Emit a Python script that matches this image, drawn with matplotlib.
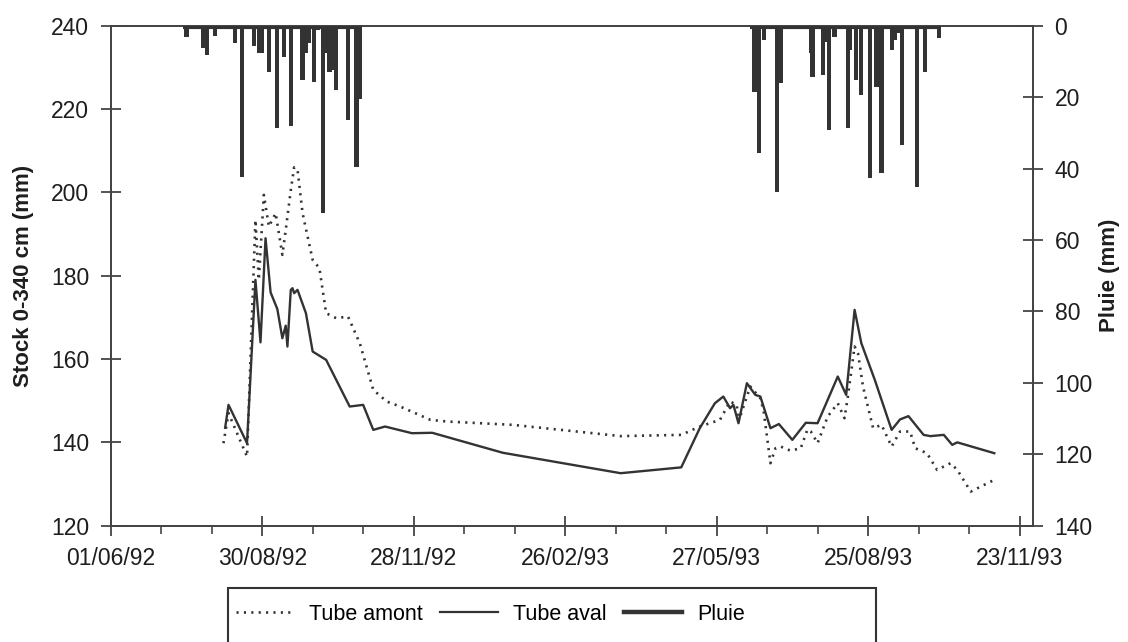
import matplotlib
matplotlib.use("Agg")
import matplotlib.pyplot as plt
from matplotlib.lines import Line2D
from matplotlib.patches import Rectangle
import pandas as pd

plt.rcParams['font.family'] = ['Liberation Sans', 'DejaVu Sans']

# ---------------- data ----------------
amont_dates = ['07/08/92', '10/08/92', '21/08/92', '26/08/92', '28/08/92', '31/08/92', '03/09/92',
               '07/09/92', '11/09/92', '13/09/92', '16/09/92', '18/09/92', '20/09/92', '23/09/92',
               '29/09/92', '03/10/92', '07/10/92', '13/10/92', '20/10/92', '27/10/92', '04/11/92',
               '12/11/92', '20/11/92', '08/12/92', '18/12/92', '26/01/93', '31/03/93', '06/05/93',
               '17/05/93', '29/05/93', '04/06/93', '08/06/93', '09/06/93', '16/06/93', '22/06/93',
               '24/06/93', '28/06/93', '01/07/93', '04/07/93', '10/07/93', '16/07/93', '20/07/93',
               '22/07/93', '26/07/93', '01/08/93', '07/08/93', '11/08/93', '13/08/93', '17/08/93',
               '19/08/93', '22/08/93', '28/08/93', '02/09/93', '08/09/93', '13/09/93', '19/09/93',
               '22/09/93', '29/09/93', '05/10/93', '13/10/93', '17/10/93', '25/10/93', '08/11/93']
amont_values = [139.8, 147.0, 136.6, 193.4, 179.0, 199.4, 191.8,
                195.0, 185.0, 191.0, 200.5, 206.0, 205.5, 195.0,
                183.8, 181.8, 171.0, 169.8, 170.2, 163.8, 152.6,
                149.8, 148.6, 145.4, 145.0, 144.2, 141.5, 141.8,
                143.8, 145.4, 149.8, 149.0, 145.0, 153.4, 150.6,
                147.4, 135.0, 138.6, 139.0, 138.0, 138.6, 143.1,
                142.6, 139.8, 146.2, 149.4, 145.8, 151.0, 163.0,
                161.4, 153.4, 143.4, 144.2, 139.0, 142.6, 142.6,
                138.6, 137.4, 133.4, 135.0, 133.4, 128.2, 131.0]

aval_dates = ['08/08/92', '10/08/92', '21/08/92', '26/08/92', '29/08/92', '01/09/92', '04/09/92',
              '08/09/92', '11/09/92', '13/09/92', '14/09/92', '16/09/92', '17/09/92', '18/09/92',
              '20/09/92', '25/09/92', '29/09/92', '07/10/92', '21/10/92', '29/10/92', '04/11/92',
              '11/11/92', '27/11/92', '09/12/92', '20/01/93', '31/03/93', '06/05/93', '17/05/93',
              '26/05/93', '31/05/93', '04/06/93', '06/06/93', '09/06/93', '14/06/93', '19/06/93',
              '22/06/93', '28/06/93', '03/07/93', '11/07/93', '19/07/93', '26/07/93', '07/08/93',
              '12/08/93', '17/08/93', '21/08/93', '29/08/93', '08/09/93', '13/09/93', '18/09/93',
              '27/09/93', '01/10/93', '09/10/93', '14/10/93', '17/10/93', '08/11/93']
aval_values = [143.5, 149.0, 139.8, 179.0, 164.0, 189.0, 176.0,
               172.0, 165.0, 168.0, 163.0, 176.6, 177.0, 175.8,
               176.6, 171.0, 161.8, 159.8, 148.6, 149.0, 143.0,
               143.8, 142.2, 142.3, 137.5, 132.6, 134.0, 143.4,
               149.4, 151.0, 148.2, 149.0, 144.6, 154.2, 151.4,
               151.0, 143.4, 144.4, 140.6, 144.7, 144.6, 155.8,
               151.4, 171.8, 163.8, 155.0, 143.0, 145.5, 146.3,
               141.8, 141.5, 141.8, 139.4, 140.0, 137.4]

pluie_dates = ['16/07/92', '26/07/92', '28/07/92', '02/08/92', '14/08/92', '18/08/92', '25/08/92',
               '28/08/92', '30/08/92', '03/09/92', '08/09/92', '12/09/92', '16/09/92', '23/09/92',
               '25/09/92', '27/09/92', '30/09/92', '02/10/92', '05/10/92', '07/10/92', '09/10/92',
               '11/10/92', '13/10/92', '20/10/92', '25/10/92', '27/10/92',
               '18/06/93', '19/06/93', '21/06/93', '24/06/93', '02/07/93', '04/07/93', '22/07/93',
               '23/07/93', '29/07/93', '31/07/93', '02/08/93', '05/08/93', '13/08/93', '14/08/93',
               '18/08/93', '21/08/93', '26/08/93', '30/08/93', '02/09/93', '08/09/93', '10/09/93',
               '12/09/93', '14/09/93', '23/09/93', '28/09/93', '06/10/93']
pluie_values = [3.1, 6.3, 8.2, 2.9, 4.8, 42.3, 5.7,
                7.7, 7.7, 12.9, 28.7, 8.7, 28.1, 15.2,
                7.7, 4.9, 15.7, 1.2, 52.4, 7.7, 12.9,
                12.3, 18.0, 26.4, 39.5, 20.6,
                18.5, 18.5, 35.7, 4.0, 46.5, 16.1, 7.7,
                14.3, 13.8, 4.5, 29.2, 3.1, 28.7, 6.8,
                15.2, 19.4, 42.7, 17.1, 41.3, 6.8, 4.0,
                2.1, 33.4, 45.1, 12.9, 3.5]

xtick_labels = ['01/06/92', '30/08/92', '28/11/92', '26/02/93', '27/05/93', '25/08/93', '23/11/93']
x_limits = ['01/06/92', '01/12/93']
stock_ticks = [120, 140, 160, 180, 200, 220, 240]
pluie_ticks = [0, 20, 40, 60, 80, 100, 120, 140]

# ---------------- figure ----------------
def d(lst):
    return pd.to_datetime(lst, format='%d/%m/%y')

INK = '#333333'
W, H = 1128, 642
fig = plt.figure(figsize=(W / 100, H / 100), dpi=100)
ax = fig.add_axes([110.7 / W, 1 - 525.7 / H, (1033 - 110.7) / W, 500 / H])
ax2 = ax.twinx()

ax.plot(d(amont_dates), amont_values, color=INK, lw=1.9,
        linestyle=(0, (0.8, 2.0)), dash_capstyle='butt', zorder=3)
ax.plot(d(aval_dates), aval_values, color=INK, lw=1.7, zorder=3)

pdates = d(pluie_dates)
ax2.bar(pdates, pluie_values, width=2.5, color=INK, linewidth=0, zorder=3)
# thin band of small daily rains along the top within each rainy season
season_split = pdates.year == 1992
for mask in (season_split, ~season_split):
    sel = pdates[mask]
    ax2.hlines(0.5, sel.min() - pd.Timedelta(days=2), sel.max() + pd.Timedelta(days=1),
               color=INK, lw=3, zorder=3)

xl = d(x_limits)
ax.set_xlim(xl[0], xl[1])
ax.set_ylim(stock_ticks[0], stock_ticks[-1])
ax2.set_ylim(pluie_ticks[-1], pluie_ticks[0])

ax.set_xticks(d(xtick_labels))
ax.set_xticklabels(xtick_labels)
minor = pd.date_range(xl[0], xl[1], freq='30D')
ax.set_xticks(minor, minor=True)
ax.set_yticks(stock_ticks)
ax2.set_yticks(pluie_ticks)

FS = 16.5
TC = '#1e1e1e'
for a in (ax, ax2):
    for s in a.spines.values():
        s.set_color('#444444')
        s.set_linewidth(1.3)
ax.tick_params(axis='y', direction='inout', length=15, width=1.3, color='#444444',
               labelsize=FS, pad=8, labelcolor=TC)
ax.tick_params(axis='x', which='major', direction='inout', length=15, width=1.3,
               color='#444444', labelsize=FS, pad=8, labelcolor=TC)
ax.tick_params(axis='x', which='minor', direction='out', length=6, width=1.2, color='#444444')
ax2.tick_params(axis='y', direction='inout', length=15, width=1.3, color='#444444',
                labelsize=FS, pad=8, labelcolor=TC)

ax.set_ylabel('Stock 0-340 cm (mm)', fontsize=16, fontweight='bold', color=TC)
ax.yaxis.set_label_coords(-0.083, 0.5)
ax2.set_ylabel('Pluie (mm)', fontsize=16, fontweight='bold', color=TC, rotation=90)
ax2.yaxis.set_label_coords(1.072, 0.5)

# legend
handles = [Line2D([], [], color=INK, lw=1.9, linestyle=(0, (0.8, 2.0)), dash_capstyle='butt'),
           Line2D([], [], color=INK, lw=1.6),
           Line2D([], [], color=INK, lw=3.2)]
fig.legend(handles, ['Tube amont', 'Tube aval', 'Pluie'], loc='center left',
           bbox_to_anchor=(236 / W, 1 - 614 / H), ncol=3, frameon=False, fontsize=15.5,
           handlelength=2.7, handletextpad=0.7, columnspacing=0.8, borderpad=0,
           borderaxespad=0)
fig.patches.append(Rectangle((228 / W, -0.05), (876 - 228) / W, 0.05 + 1 - 588 / H,
                             transform=fig.transFigure, fill=False, edgecolor='#333333',
                             lw=1.5))

fig.savefig('out.png', dpi=100)
